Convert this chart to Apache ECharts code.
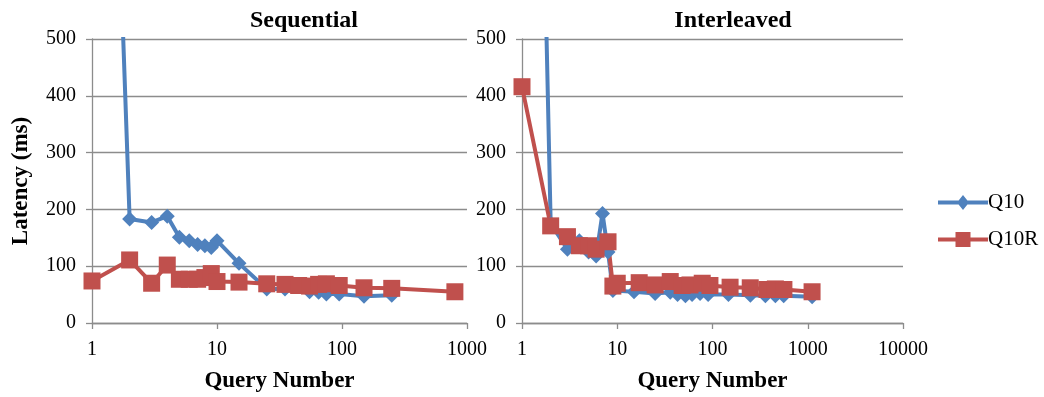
<!DOCTYPE html>
<html><head><meta charset="utf-8">
<script src="https://cdn.jsdelivr.net/npm/echarts@6/dist/echarts.min.js"></script>
<style>html,body{margin:0;padding:0;background:#fff}#c{width:1044px;height:397px}</style>
</head><body><div id="c"></div>
<script>
// Sequential panel
const seqQ10X = [1,2,3,4,5,6,7,8,9,10,15,25,35,55,65,75,95,150,250];
const seqQ10Y = [2050,183,177,188,151,145,138,136,133,145,105,60,60,55,54,51,51,47,49];
const seqQ10RX = [1,2,3,4,5,6,7,8,9,10,15,25,35,45,55,65,75,95,150,250,800];
const seqQ10RY = [74,111,70,102,77,77,77,80,87,73,72,69,68,66,65,68,69,66,62,61,55];
// Interleaved panel
const intQ10X = [1,2,3,4,5,6,7,8,9,15,25,36,43,52,61,74,90,147,250,359,457,559,1112];
const intQ10Y = [2450,175,130,145,125,118,193,125,57,55,52,54,50,48,50,52,50,50,49,48,48,48,46];
const intQ10RX = [1,2,3,4,5,6,8,9,10,17,25,36,48,58,78,94,153,249,373,457,562,1110];
const intQ10RY = [416,171,152,136,136,130,143,65,70,71,67,73,66,67,70,66,63,62,59,60,59,55];
const yTicks = [0,100,200,300,400,500];
const titles = ['Sequential','Interleaved'];
const seriesNames = ['Q10','Q10R'];

const zip = (xs, ys) => xs.map((x, i) => [x, ys[i]]);
const FONT = '"Liberation Serif", "Times New Roman", serif';
const BLUE = '#4F81BD', RED = '#C0504D', GRID = '#8c8c8c';

const chart = echarts.init(document.getElementById('c'), null, {renderer: 'canvas'});

function xAxis(idx, max, name) {
  return {
    type: 'log', logBase: 10, gridIndex: idx, min: 1, max: max,
    name: name, nameLocation: 'middle', nameGap: 47,
    nameTextStyle: {fontFamily: FONT, fontWeight: 'bold', fontSize: 23, color: '#000'},
    axisLine: {show: true, lineStyle: {color: GRID, width: 1.3}},
    axisTick: {show: true, length: 6, lineStyle: {color: GRID, width: 1.3}},
    minorTick: {show: false},
    splitLine: {show: false},
    axisLabel: {fontFamily: FONT, fontSize: 20, color: '#000', margin: 17,
      formatter: v => String(Math.round(v))}
  };
}
function yAxis(idx, name) {
  return {
    type: 'value', gridIndex: idx, min: 0, max: 500, interval: 100,
    name: name, nameLocation: 'middle', nameGap: 59, nameRotate: 90,
    nameTextStyle: {fontFamily: FONT, fontWeight: 'bold', fontSize: 23, color: '#000'},
    axisLine: {show: true, lineStyle: {color: GRID, width: 1.3}},
    axisTick: {show: true, length: 6, inside: false, lineStyle: {color: GRID, width: 1.3}},
    splitLine: {show: true, lineStyle: {color: GRID, width: 1.3}},
    axisLabel: {fontFamily: FONT, fontSize: 20, color: '#000', margin: 16,
      formatter: v => yTicks.includes(v) ? String(v) : ''}
  };
}
function lineSeries(name, data, idx, color, symbol, size) {
  return {
    type: 'line', name: name, data: data, xAxisIndex: idx, yAxisIndex: idx,
    symbol: symbol, symbolSize: size, showAllSymbol: true,
    lineStyle: {color: color, width: 4},
    itemStyle: {color: color},
    emphasis: {disabled: true},
    clip: true, animation: false
  };
}
const ICON_Q10 = 'path://M0 5.5 H50 V9.5 H0 Z M25 0 L31 7.5 L25 15 L19 7.5 Z';
const ICON_Q10R = 'path://M0 5.5 H50 V9.5 H0 Z M17.5 0 H32.5 V15 H17.5 Z';

chart.setOption({
  animation: false,
  backgroundColor: '#fff',
  title: [
    {text: titles[0], left: 299, top: 4, textAlign: 'center',
     textStyle: {fontFamily: FONT, fontWeight: 'bold', fontSize: 24, color: '#000'}},
    {text: titles[1], left: 728, top: 4, textAlign: 'center',
     textStyle: {fontFamily: FONT, fontWeight: 'bold', fontSize: 24, color: '#000'}}
  ],
  legend: {
    orient: 'vertical', left: 933, top: 187, itemGap: 16,
    itemWidth: 50, itemHeight: 15,
    data: [{name: seriesNames[0], icon: ICON_Q10}, {name: seriesNames[1], icon: ICON_Q10R}],
    textStyle: {fontFamily: FONT, fontSize: 21, color: '#000', padding: [0,0,0,-5]}
  },
  grid: [
    {left: 92, top: 39, width: 375, height: 284, outerBoundsMode: 'none', containLabel: false},
    {left: 522, top: 39, width: 381, height: 284, outerBoundsMode: 'none', containLabel: false}
  ],
  xAxis: [xAxis(0, 1000, 'Query Number'), xAxis(1, 10000, 'Query Number')],
  yAxis: [yAxis(0, 'Latency (ms)'), yAxis(1, '')],
  series: [
    lineSeries(seriesNames[0], zip(seqQ10X, seqQ10Y), 0, BLUE, 'diamond', [15, 15]),
    lineSeries(seriesNames[1], zip(seqQ10RX, seqQ10RY), 0, RED, 'rect', 17),
    lineSeries(seriesNames[0], zip(intQ10X, intQ10Y), 1, BLUE, 'diamond', [15, 15]),
    lineSeries(seriesNames[1], zip(intQ10RX, intQ10RY), 1, RED, 'rect', 17)
  ]
});
</script></body></html>
